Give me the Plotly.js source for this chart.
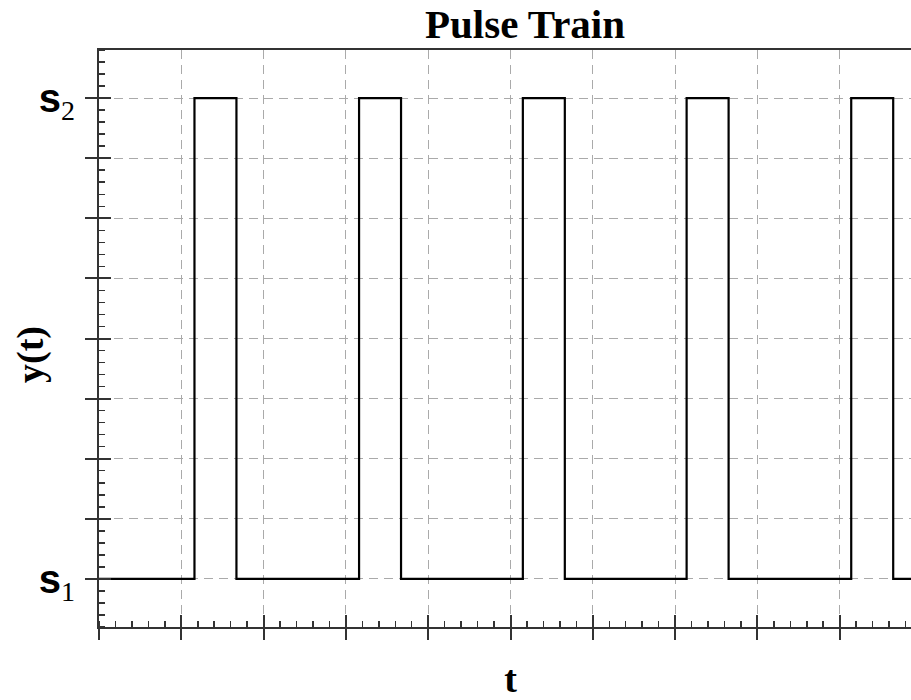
<!DOCTYPE html>
<html>
<head>
<meta charset="utf-8">
<script src="https://cdn.plot.ly/plotly-3.0.1.min.js"></script>
<style>
html, body { margin: 0; padding: 0; overflow: hidden; background: #fff; }
#chart { width: 935px; height: 700px; }
</style>
</head>
<body>
<div id="chart"></div>
<script>
// Levels
const S1 = 0;
const S2 = 8;
// Switching instants (t) and levels after each instant (step data)
const tVals = [0, 1.16, 1.67, 3.16, 3.67, 5.15, 5.66, 7.14, 7.65, 9.14, 9.65, 10];
const yVals = [S1, S2, S1, S2, S1, S2, S1, S2, S1, S2, S1, S1];
// Axis ticks
const xTickVals = [0, 1, 2, 3, 4, 5, 6, 7, 8, 9, 10];
const yTickVals = [0, 1, 2, 3, 4, 5, 6, 7, 8];
const subStyle = "font-family:'Liberation Serif';font-weight:normal;font-size:28px";
const yTickText = [
  "s<sub><span style=\"" + subStyle + "\">1</span></sub>", " ", " ", " ", " ", " ", " ", " ",
  "s<sub><span style=\"" + subStyle + "\">2</span></sub>"
];
const titleText = "Pulse Train";
const xTitleText = "t";
const yTitleText = "y(t)";

const axisColor = "#333";
const gridStyle = { showgrid: true, gridcolor: "#aaa", gridwidth: 1, griddash: "9px,6px" };

const traces = [
  {
    x: tVals, y: yVals, mode: "lines", line: { shape: "hv", color: "#000", width: 2.2 },
    hoverinfo: "skip", showlegend: false
  },
  {
    x: [tVals[0]], y: [yVals[0]], xaxis: "x2", yaxis: "y2", mode: "markers",
    marker: { opacity: 0 }, hoverinfo: "skip", showlegend: false
  }
];

const layout = {
  width: 935, height: 700,
  margin: { l: 99, r: 13, t: 50, b: 73 },
  paper_bgcolor: "#fff", plot_bgcolor: "#fff",
  showlegend: false,
  title: {
    text: "<b>" + titleText + "</b>",
    font: { family: "Liberation Serif", size: 41, color: "#000" },
    xref: "container", x: 525 / 935, xanchor: "center",
    yref: "container", y: 1 - 24 / 700, yanchor: "middle"
  },
  xaxis: Object.assign({
    range: [0, 10], tickmode: "array", tickvals: xTickVals, showticklabels: false,
    ticks: "outside", ticklen: 11, tickwidth: 2, tickcolor: axisColor,
    showline: true, linecolor: axisColor, linewidth: 2, mirror: true, zeroline: false,
    minor: { dtick: 0.2, ticks: "inside", ticklen: 6, tickwidth: 1.5, tickcolor: axisColor, showgrid: false },
    title: { text: "<b>" + xTitleText + "</b>", font: { family: "Liberation Serif", size: 38, color: "#000" }, standoff: 26 }
  }, gridStyle),
  yaxis: Object.assign({
    range: [-0.8, 8.8], tickmode: "array", tickvals: yTickVals, ticktext: yTickText,
    ticks: "outside", ticklen: 12, tickwidth: 2, tickcolor: axisColor,
    tickfont: { family: "Liberation Sans", size: 40, color: "#000", weight: "bold" },
    ticklabelstandoff: 2,
    showline: true, linecolor: axisColor, linewidth: 2, mirror: true, zeroline: false,
    minor: { dtick: 0.2, ticks: "inside", ticklen: 6, tickwidth: 1.5, tickcolor: axisColor, showgrid: false }
  }, gridStyle),
  xaxis2: {
    overlaying: "x", anchor: "y2", side: "bottom", range: [0, 10],
    tickmode: "array", tickvals: xTickVals, showticklabels: false,
    ticks: "inside", ticklen: 12, tickwidth: 2, tickcolor: axisColor,
    showgrid: false, showline: false, zeroline: false
  },
  yaxis2: {
    overlaying: "y", anchor: "x2", side: "left", range: [-0.8, 8.8],
    tickmode: "array", tickvals: yTickVals, showticklabels: false,
    ticks: "inside", ticklen: 12, tickwidth: 2, tickcolor: axisColor,
    showgrid: false, showline: false, zeroline: false
  },
  annotations: [
    {
      text: "<b>" + yTitleText + "</b>", textangle: -90, showarrow: false,
      xref: "paper", yref: "paper", x: (30 - 99) / 823, y: (627 - 355) / 577,
      xanchor: "center", yanchor: "middle",
      font: { family: "Liberation Serif", size: 38, color: "#000" }
    }
  ]
};

Plotly.newPlot("chart", traces, layout, { staticPlot: true, displayModeBar: false });
</script>
</body>
</html>
